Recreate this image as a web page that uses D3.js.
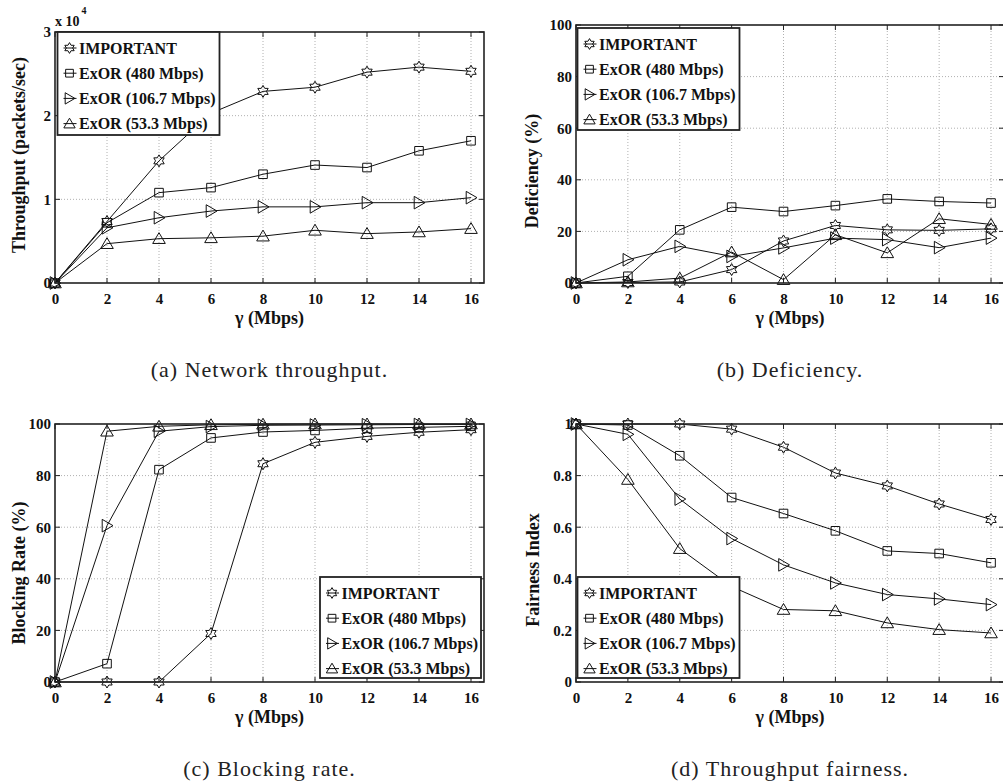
<!DOCTYPE html>
<html><head><meta charset="utf-8">
<script src="https://cdn.jsdelivr.net/npm/d3@7"></script>
<style>
body{margin:0;background:#fff;}
svg{display:block;}
text{font-family:"Liberation Serif","Times New Roman",serif;}
</style></head>
<body>
<svg id="chart" width="1003" height="782"></svg>
<script>
// ---------- data ----------
const gamma = [0, 2, 4, 6, 8, 10, 12, 14, 16];
const seriesNames = ["IMPORTANT", "ExOR (480 Mbps)", "ExOR (106.7 Mbps)", "ExOR (53.3 Mbps)"];
const markerTypes = ["hexagram", "square", "triangleRight", "triangleUp"];

// (a) throughput, packets/sec
const thrImportant = [0, 7350, 14600, 20300, 22900, 23400, 25200, 25800, 25300];
const thrExor480   = [0, 7200, 10800, 11400, 13000, 14100, 13800, 15800, 17000];
const thrExor1067  = [0, 6600, 7800, 8600, 9100, 9100, 9600, 9600, 10200];
const thrExor533   = [0, 4700, 5300, 5400, 5600, 6300, 5900, 6100, 6500];

// (b) deficiency, %
const defImportant = [0, 0.2, 0.4, 5.2, 16.3, 22.3, 20.6, 20.4, 21.0];
const defExor480   = [0, 2.6, 20.6, 29.4, 27.7, 30.0, 32.6, 31.6, 31.0];
const defExor1067  = [0, 9.0, 14.2, 10.3, 13.6, 17.4, 16.8, 13.7, 17.4];
const defExor533   = [0, 0.4, 1.9, 12.0, 1.3, 18.7, 11.7, 24.9, 22.7];

// (c) blocking rate, %
const blkImportant = [0, 0, 0, 18.8, 84.6, 92.9, 95.2, 96.8, 97.8];
const blkExor480   = [0, 7.1, 82.3, 94.6, 96.9, 97.5, 98.4, 98.7, 99.1];
const blkExor1067  = [0, 60.6, 97.2, 99.0, 99.5, 99.6, 99.7, 99.8, 99.8];
const blkExor533   = [0, 97.2, 99.1, 99.7, 99.9, 100, 100, 100, 100];

// (d) fairness index
const fairImportant = [1, 1, 1, 0.98, 0.91, 0.81, 0.76, 0.69, 0.63];
const fairExor480   = [1, 0.996, 0.877, 0.715, 0.653, 0.586, 0.508, 0.498, 0.462];
const fairExor1067  = [1, 0.96, 0.709, 0.556, 0.454, 0.384, 0.339, 0.322, 0.30];
const fairExor533   = [1, 0.785, 0.517, 0.37, 0.281, 0.276, 0.229, 0.203, 0.19];

const xTicks = [0, 2, 4, 6, 8, 10, 12, 14, 16];
const thrTicks = [0, 10000, 20000, 30000];
const pctTicks = [0, 20, 40, 60, 80, 100];
const fairTicks = [0, 0.2, 0.4, 0.6, 0.8, 1];

const yLabels = ["Throughput (packets/sec)", "Deficiency (%)", "Blocking Rate (%)", "Fairness Index"];
const xLabel = "γ (Mbps)";
const captions = ["(a) Network throughput.", "(b) Deficiency.", "(c) Blocking rate.", "(d) Throughput fairness."];

// ---------- layout ----------
const panels = [
  {series:[thrImportant, thrExor480, thrExor1067, thrExor533], yDomain:[0,30000], yTicks:thrTicks,
   fmt:d => d3.format("d")(d/10000), left:55, right:484, top:32, bottom:283,
   ylab:{x:19, y:155}, legend:{x:57.5, y:32, w:162, h:103}, cap:captions[0], exp:true},
  {series:[defImportant, defExor480, defExor1067, defExor533], yDomain:[0,100], yTicks:pctTicks,
   fmt:d3.format("d"), left:576, right:1004, top:25, bottom:283,
   ylab:{x:532, y:171}, legend:{x:577.5, y:28, w:162, h:102}, cap:captions[1]},
  {series:[blkImportant, blkExor480, blkExor1067, blkExor533], yDomain:[0,100], yTicks:pctTicks,
   fmt:d3.format("d"), left:55, right:484, top:424, bottom:682,
   ylab:{x:19, y:573}, legend:{x:320, y:577, w:161, h:101}, cap:captions[2]},
  {series:[fairImportant, fairExor480, fairExor1067, fairExor533], yDomain:[0,1], yTicks:fairTicks,
   fmt:d => d === 0 || d === 1 ? String(d) : d3.format(".1f")(d), left:576, right:1004, top:424, bottom:682,
   ylab:{x:533, y:570}, legend:{x:577.5, y:577, w:162, h:101}, cap:captions[3]}
];

const svg = d3.select("#chart");

function markerPath(type, s) {
  const p = d3.path();
  if (type === "square") {
    const h = s * 0.43;
    p.rect(-h, -h, 2*h, 2*h);
  } else if (type === "triangleUp") {
    const h = s * 0.6;
    p.moveTo(0, -h); p.lineTo(h*1.05, h*0.8); p.lineTo(-h*1.05, h*0.8); p.closePath();
  } else if (type === "triangleRight") {
    const h = s * 0.6;
    p.moveTo(h, 0); p.lineTo(-h*0.8, h*1.05); p.lineTo(-h*0.8, -h*1.05); p.closePath();
  } else {
    const R = s * 0.6, r = R * 0.58;
    for (let k = 0; k < 12; k++) {
      const a = (-90 + k*30) * Math.PI/180;
      const rr = k % 2 === 0 ? R : r;
      const x = rr*Math.cos(a), y = rr*Math.sin(a);
      if (k === 0) p.moveTo(x, y); else p.lineTo(x, y);
    }
    p.closePath();
  }
  return p.toString();
}

panels.forEach((P, pi) => {
  const g = svg.append("g");
  const x = d3.scaleLinear().domain([0, 16.5]).range([P.left, P.right]);
  const y = d3.scaleLinear().domain(P.yDomain).range([P.bottom, P.top]);

  // grid
  g.selectAll(".gx").data(xTicks.filter(t => t > 0)).join("line")
    .attr("x1", d => x(d)).attr("x2", d => x(d)).attr("y1", P.top).attr("y2", P.bottom)
    .attr("stroke", "#b0b0b0").attr("stroke-width", 1).attr("stroke-dasharray", "1,2");
  g.selectAll(".gy").data(P.yTicks.filter(t => t > P.yDomain[0] && t < P.yDomain[1])).join("line")
    .attr("x1", P.left).attr("x2", P.right).attr("y1", d => y(d)).attr("y2", d => y(d))
    .attr("stroke", "#b0b0b0").attr("stroke-width", 1).attr("stroke-dasharray", "1,2");

  // axes via d3 axis (labels), ticks inward
  const xAxis = d3.axisBottom(x).tickValues(xTicks).tickSize(0).tickPadding(10).tickFormat(d3.format("d"));
  const gx = g.append("g").attr("transform", `translate(0,${P.bottom})`).call(xAxis);
  const yAxis = d3.axisLeft(y).tickValues(P.yTicks).tickSize(0).tickPadding(4).tickFormat(P.fmt);
  const gy = g.append("g").attr("transform", `translate(${P.left},0)`).call(yAxis);
  [gx, gy].forEach(a => {
    a.select(".domain").remove();
    a.selectAll("text").attr("font-size", 15).attr("font-weight", "bold").attr("fill", "#111")
      .attr("font-family", "Liberation Serif, serif");
  });

  // tick marks (inward on all sides)
  const tl = 5;
  xTicks.forEach(t => {
    g.append("line").attr("x1", x(t)).attr("x2", x(t)).attr("y1", P.bottom).attr("y2", P.bottom - tl).attr("stroke", "#222");
    g.append("line").attr("x1", x(t)).attr("x2", x(t)).attr("y1", P.top).attr("y2", P.top + tl).attr("stroke", "#222");
  });
  P.yTicks.forEach(t => {
    g.append("line").attr("x1", P.left).attr("x2", P.left + tl).attr("y1", y(t)).attr("y2", y(t)).attr("stroke", "#222");
    g.append("line").attr("x1", P.right).attr("x2", P.right - tl).attr("y1", y(t)).attr("y2", y(t)).attr("stroke", "#222");
  });

  // lines and markers
  const line = d3.line().x((d, i) => x(gamma[i])).y(d => y(d));
  P.series.forEach((vals, si) => {
    g.append("path").datum(vals).attr("d", line).attr("fill", "none")
      .attr("stroke", "#111").attr("stroke-width", 1);
  });
  P.series.forEach((vals, si) => {
    g.selectAll(null).data(vals).join("path")
      .attr("transform", (d, i) => `translate(${x(gamma[i])},${y(d)})`)
      .attr("d", markerPath(markerTypes[si], 10))
      .attr("fill", "none").attr("stroke", "#111").attr("stroke-width", 1);
  });

  // box
  g.append("rect").attr("x", P.left).attr("y", P.top)
    .attr("width", P.right - P.left).attr("height", P.bottom - P.top)
    .attr("fill", "none").attr("stroke", "#222").attr("stroke-width", 1.6);

  // exponent label
  if (P.exp) {
    const t = g.append("text").attr("x", P.left).attr("y", 26)
      .attr("font-size", 14).attr("font-weight", "bold").attr("fill", "#111");
    t.append("tspan").text("x 10");
    t.append("tspan").attr("dy", -12).attr("dx", 2).attr("font-size", 10).text("4");
  }

  // axis labels
  g.append("text").attr("transform", `translate(${P.ylab.x},${P.ylab.y}) rotate(-90)`)
    .attr("text-anchor", "middle").attr("dominant-baseline", "central")
    .attr("font-size", 18).attr("font-weight", "bold").attr("fill", "#111").text(yLabels[pi]);
  g.append("text").attr("x", (P.left + P.right) / 2).attr("y", P.bottom + 41)
    .attr("text-anchor", "middle").attr("font-size", 18).attr("font-weight", "bold")
    .attr("fill", "#111").text(xLabel);

  // caption
  g.append("text").attr("x", (P.left + P.right) / 2).attr("y", P.bottom + 94)
    .attr("text-anchor", "middle").attr("font-size", 22).attr("letter-spacing", 1)
    .attr("fill", "#222").text(P.cap);

  // legend
  const L = P.legend;
  const lg = g.append("g");
  lg.append("rect").attr("x", L.x).attr("y", L.y).attr("width", L.w).attr("height", L.h)
    .attr("fill", "#fff").attr("stroke", "#222").attr("stroke-width", 1.8);
  seriesNames.forEach((name, si) => {
    const ry = L.y + 16 + si * 25.2;
    const mx = L.x + 12;
    lg.append("line").attr("x1", mx - 6).attr("x2", mx + 7).attr("y1", ry).attr("y2", ry)
      .attr("stroke", "#111").attr("stroke-width", 1);
    lg.append("path").attr("transform", `translate(${mx},${ry})`)
      .attr("d", markerPath(markerTypes[si], 9)).attr("fill", "none").attr("stroke", "#111");
    lg.append("text").attr("x", L.x + 21.5).attr("y", ry).attr("dominant-baseline", "central")
      .attr("font-size", 16).attr("font-weight", "bold").attr("fill", "#111").text(name);
  });
});
</script>
</body></html>
